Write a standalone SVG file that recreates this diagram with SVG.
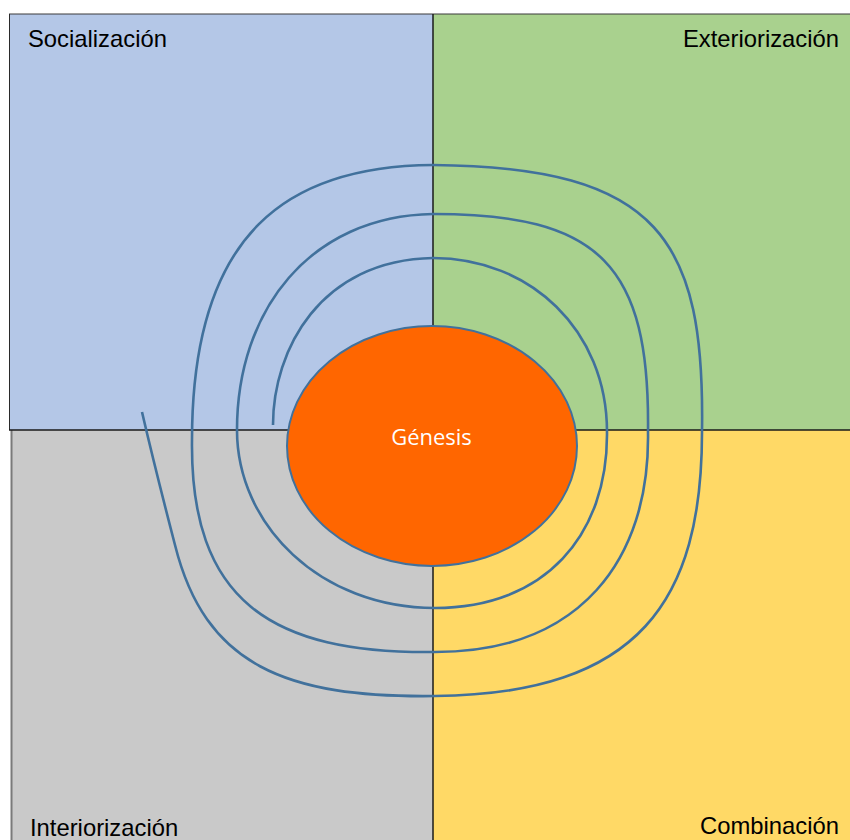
<svg xmlns="http://www.w3.org/2000/svg" width="850" height="840" viewBox="0 0 850 840">
  <style>
    .label { font-family: "Liberation Sans", Arial, sans-serif; font-size: 23.8px; fill: #000000; }
    .divider { stroke: #1a1a1a; stroke-width: 1.5; fill: none; }
    .spiral { stroke: #41719C; stroke-width: 2.6; fill: none; stroke-linecap: butt; }
  </style>
  <rect x="0" y="0" width="850" height="840" fill="#ffffff"/>
  <g id="socializacion">
    <rect x="9.5" y="14" width="424" height="416" fill="#B4C7E7"/>
    <text class="label" x="28" y="47">Socialización</text>
  </g>
  <g id="exteriorizacion">
    <rect x="433" y="14" width="417" height="416" fill="#A9D18E"/>
    <text class="label" x="839" y="47" text-anchor="end">Exteriorización</text>
  </g>
  <g id="interiorizacion">
    <rect x="11" y="430" width="422" height="410" fill="#C9C9C9"/>
    <text class="label" x="30" y="836">Interiorización</text>
  </g>
  <g id="combinacion">
    <rect x="433" y="430" width="417" height="410" fill="#FFD966"/>
    <text class="label" x="839" y="834" text-anchor="end">Combinación</text>
  </g>
  <g id="borders">
    <line x1="9" y1="14" x2="850" y2="14" stroke="#3a3a3a" stroke-width="1"/>
    <line x1="9.5" y1="14" x2="9.5" y2="430" stroke="#2a2a2a" stroke-width="1"/>
    <line x1="11.5" y1="430" x2="11.5" y2="840" stroke="#7a7a7a" stroke-width="2"/>
    <line class="divider" x1="433" y1="14" x2="433" y2="840"/>
    <line class="divider" x1="9" y1="430" x2="850" y2="430"/>
  </g>
  <g id="connectors">
    <path class="spiral" d="M273,425
      C273,350 320,260 433,258
      C530,258 607,330 607,432
      C608,535 545,608 435,608
      C320,608 237,525 237,430
      C237,310 310,216 433,214
      C600,214 650,265 648,432
      C650,560 580,652 435,652
      C270,654 190,600 192,440
      C192,230 290,166 433,165
      C660,167 705,240 702,432
      C702,600 640,694 435,696
      C285,698 205,665 175,545
      C162,495 152,455 142,412"/>
  </g>
  <g id="genesis">
    <ellipse cx="432" cy="446" rx="145" ry="120" fill="#FF6600" stroke="#41719C" stroke-width="2"/>
    <text x="431.5" y="445" text-anchor="middle" font-family="'Open Sans', 'Noto Sans', sans-serif" font-size="22" fill="#ffffff">Génesis</text>
  </g>
</svg>
